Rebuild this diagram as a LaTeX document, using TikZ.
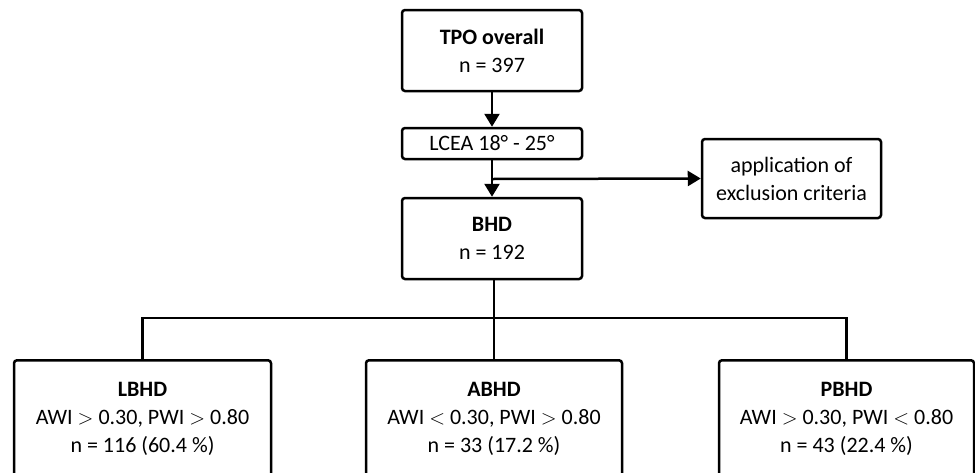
\documentclass[tikz,border=0pt]{standalone}
\usepackage{fontspec}
\setmainfont{Carlito}
\usetikzlibrary{arrows.meta}
\begin{document}
\begin{tikzpicture}[x=1pt,y=-1pt,
  every node/.style={font=\fontsize{22}{28}\selectfont},
  box/.style={draw=black, line width=2.5pt, rounded corners=3pt, align=center, inner sep=0pt},
  conn/.style={draw=black, line width=2.5pt},
  arr/.style={conn, -{Triangle[width=15pt,length=13pt]}}]
\path[use as bounding box] (0,0) rectangle (975,472);
\clip (0,0) rectangle (975,472);
\node[box, minimum width=180pt, minimum height=81pt] (tpo) at (492,50.5) {\textbf{TPO overall}\\n = 397};
\node[box, minimum width=180pt, minimum height=31pt] (lcea) at (492,143.5) {LCEA 18° - 25°};
\node[box, minimum width=180pt, minimum height=81pt] (bhd) at (492,238.5) {\textbf{BHD}\\n = 192};
\node[box, minimum width=179pt, minimum height=79pt] (excl) at (791.5,178.5) {application of\\exclusion criteria};
\node[box, minimum width=257pt, minimum height=118pt, anchor=north] (lbhd) at (142.5,359) {\textbf{LBHD}\\AWI $>$ 0.30, PWI $>$ 0.80\\n = 116 (60.4 \%)};
\node[box, minimum width=256pt, minimum height=118pt, anchor=north] (abhd) at (494,359) {\textbf{ABHD}\\AWI $<$ 0.30, PWI $>$ 0.80\\n = 33 (17.2 \%)};
\node[box, minimum width=255pt, minimum height=118pt, anchor=north] (pbhd) at (846.5,359) {\textbf{PBHD}\\AWI $>$ 0.30, PWI $<$ 0.80\\n = 43 (22.4 \%)};
\coordinate (branch) at (492,179);
\coordinate (split) at (494,318);
\draw[arr] (tpo.south) -- (lcea.north);
\draw[arr] (lcea.south) -- (bhd.north);
\draw[arr] (branch) -- (excl.west);
\draw[conn] (bhd.south -| split) -- (abhd.north);
\draw[conn] (lbhd.north) |- (split) -| (pbhd.north);
\end{tikzpicture}
\end{document}
